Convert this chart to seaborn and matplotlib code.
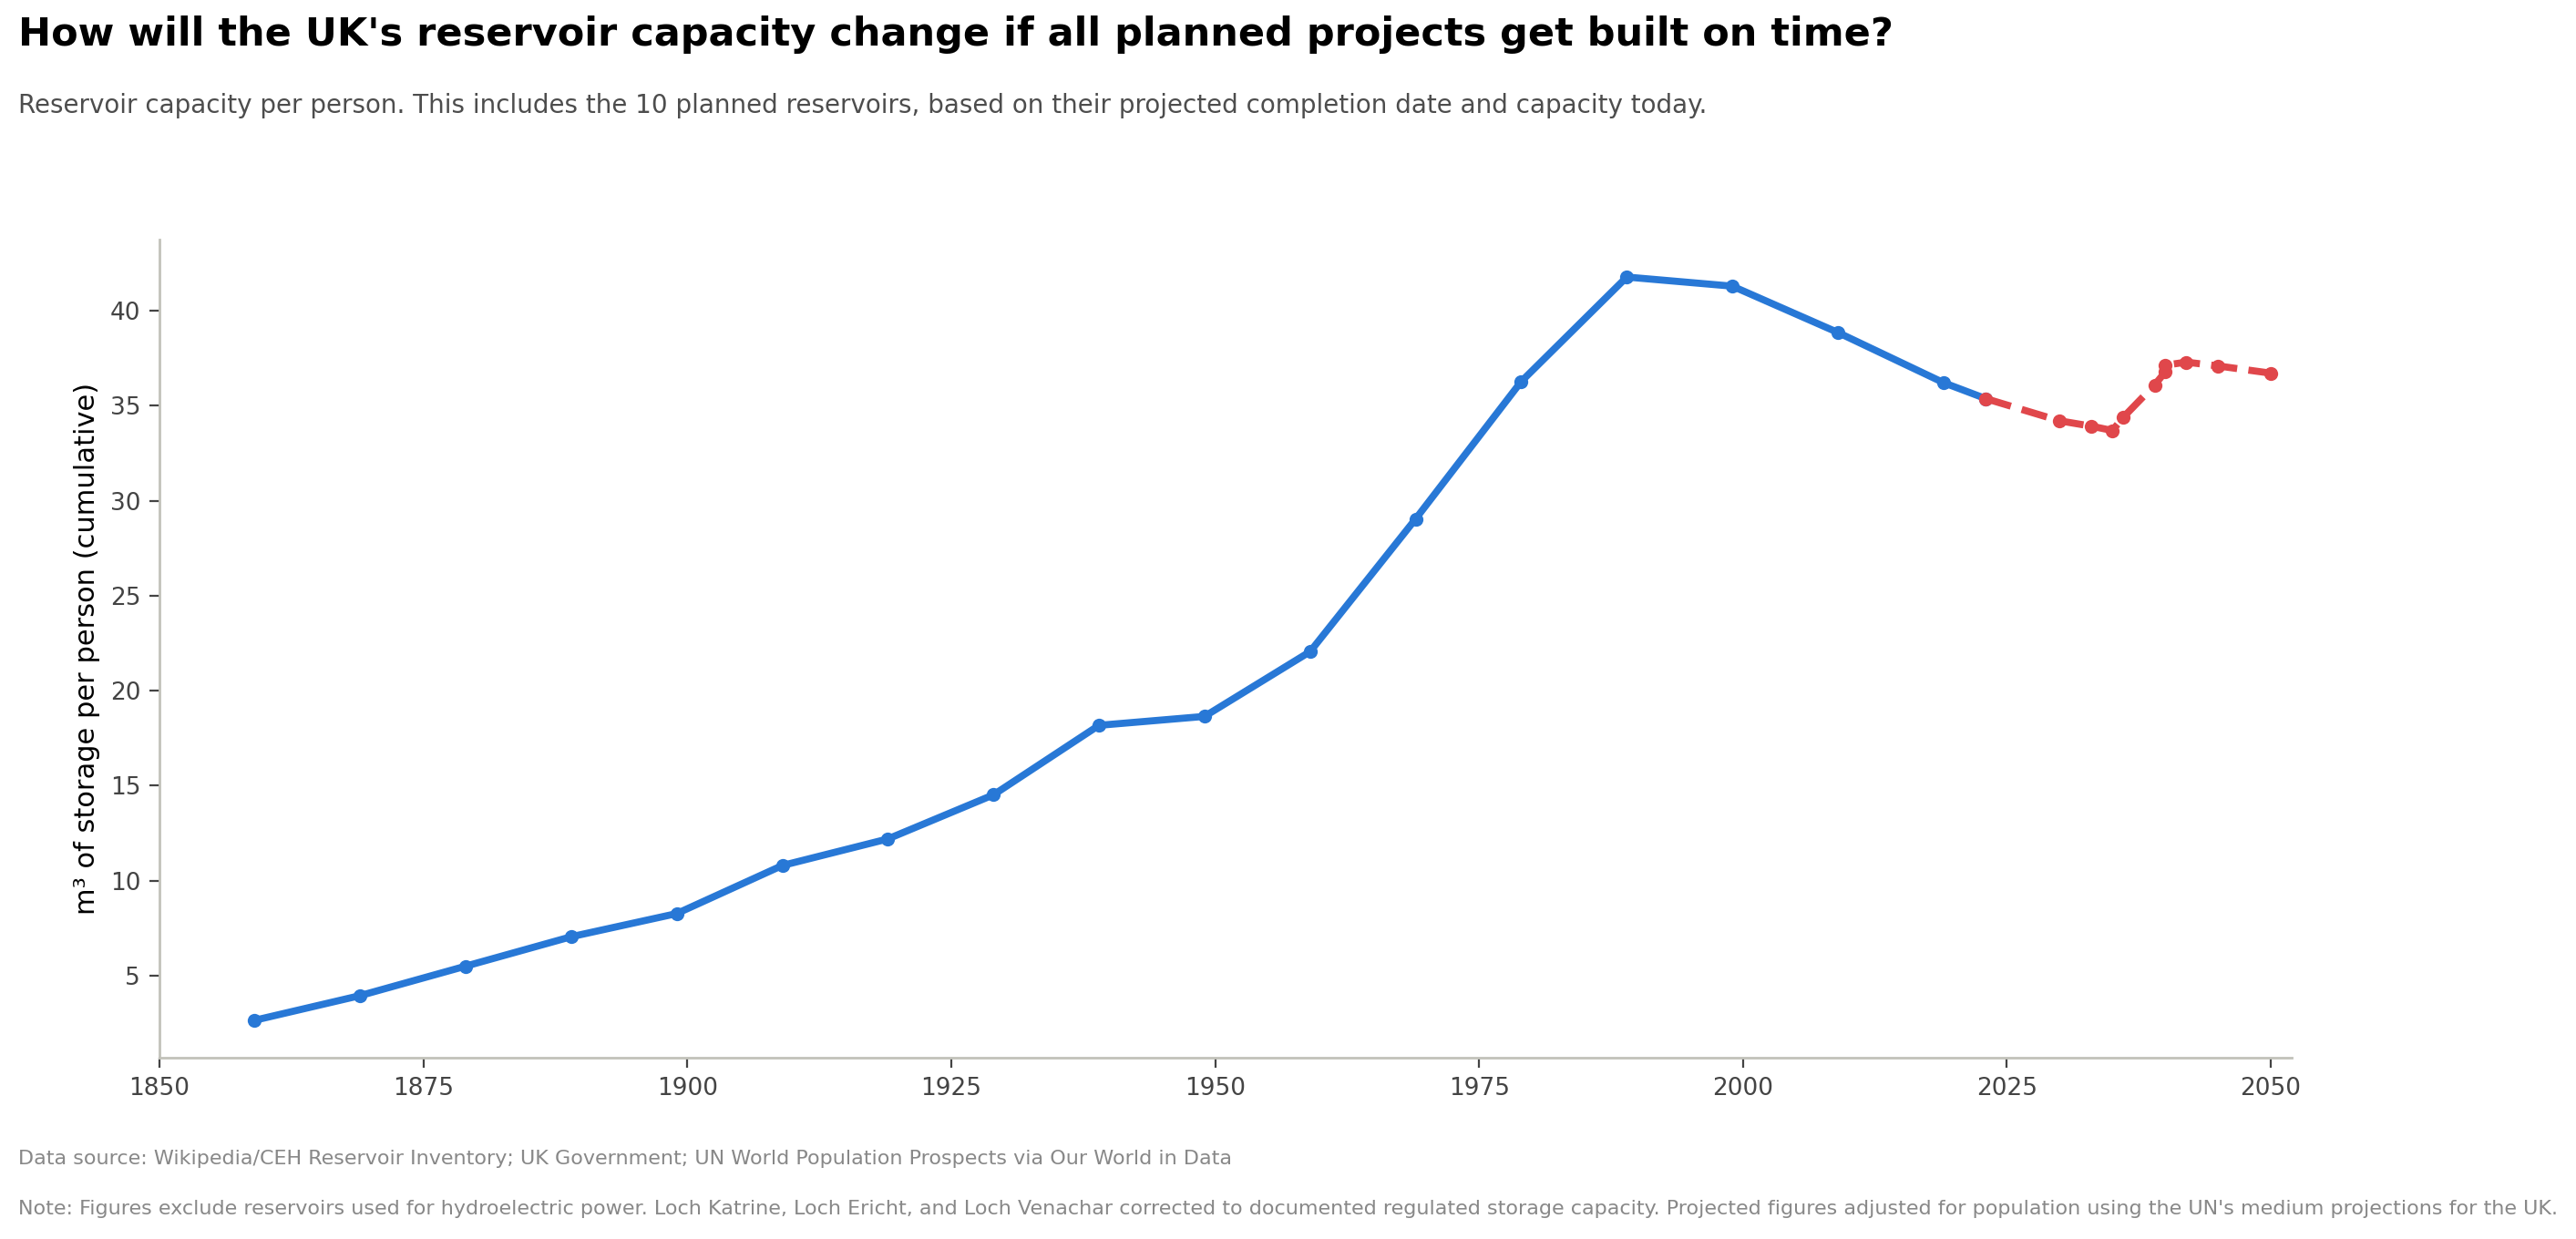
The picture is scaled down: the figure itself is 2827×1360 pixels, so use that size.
import numpy as np
import pandas as pd
import seaborn as sns
import matplotlib.pyplot as plt

sns.set_theme(style="ticks")
plt.rcParams['font.family'] = ['DejaVu Sans']

# historical series (blue)
hist_years = [1859, 1869, 1879, 1889, 1899, 1909, 1919, 1929, 1939, 1949,
              1959, 1969, 1979, 1989, 1999, 2009, 2019, 2023]
hist_vals = [2.65, 3.95, 5.5, 7.05, 8.27, 10.8, 12.2, 14.52, 18.18, 18.65,
             22.06, 29.05, 36.28, 41.78, 41.3, 38.86, 36.22, 35.38]

# projected series (red, dashed)
proj_years = [2023, 2030, 2033, 2035, 2036, 2039, 2040, 2040, 2042, 2045, 2050]
proj_vals = [35.38, 34.21, 33.93, 33.7, 34.38, 36.1, 36.78, 37.14, 37.3, 37.1, 36.72]

blue = "#2878d6"
red = "#e0474b"
spine_col = "#c2c2ba"

df_hist = pd.DataFrame({'year': hist_years, 'value': hist_vals})
df_proj = pd.DataFrame({'year': proj_years, 'value': proj_vals})

fig = plt.figure(figsize=(14.135, 6.8), dpi=200)
ax = fig.add_axes([0.0619, 0.1463, 0.8278, 0.6603])

sns.lineplot(data=df_hist, x='year', y='value', ax=ax, color=blue, lw=2.8,
             marker='o', markersize=5.5, markeredgewidth=0, estimator=None, sort=False)
sns.lineplot(data=df_proj, x='year', y='value', ax=ax, color=red, lw=2.8,
             linestyle='--', marker='o', markersize=5.5, markeredgewidth=0,
             estimator=None, sort=False)

ax.set_xlim(1850, 2052)
ax.set_ylim(0.68, 43.75)
ax.set_xticks([1850, 1875, 1900, 1925, 1950, 1975, 2000, 2025, 2050])
ax.set_yticks([5, 10, 15, 20, 25, 30, 35, 40])
ax.set_xlabel('')
ax.set_ylabel('m³ of storage per person (cumulative)', fontsize=11, color='black')
ax.tick_params(axis='both', labelsize=9.5, colors='#444444', length=4, width=0.8)
for s in ['top', 'right']:
    ax.spines[s].set_visible(False)
for s in ['left', 'bottom']:
    ax.spines[s].set_color(spine_col)
    ax.spines[s].set_linewidth(1.0)

fig.text(0.007, 0.972, "How will the UK's reservoir capacity change if all planned projects get built on time?",
         fontsize=15.5, fontweight='bold', color='black', ha='left', va='center')
fig.text(0.007, 0.915, "Reservoir capacity per person. This includes the 10 planned reservoirs, based on their projected completion date and capacity today.",
         fontsize=10, color='#4d4d4d', ha='left', va='center')
fig.text(0.007, 0.065, "Data source: Wikipedia/CEH Reservoir Inventory; UK Government; UN World Population Prospects via Our World in Data",
         fontsize=8.0, color='#888888', ha='left', va='center')
fig.text(0.007, 0.024, "Note: Figures exclude reservoirs used for hydroelectric power. Loch Katrine, Loch Ericht, and Loch Venachar corrected to documented regulated storage capacity. Projected figures adjusted for population using the UN's medium projections for the UK.",
         fontsize=8.0, color='#888888', ha='left', va='center')

plt.savefig("out.png", dpi=200)
